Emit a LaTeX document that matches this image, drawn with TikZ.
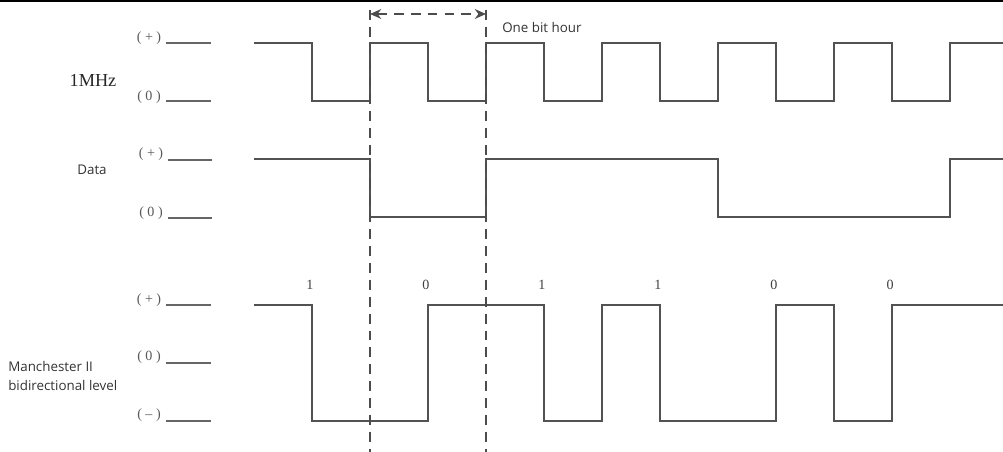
\documentclass[tikz,border=0pt]{standalone}
\usepackage{fontspec}
\setmainfont{Liberation Serif}
\newfontfamily\uifont{Open Sans}
\usetikzlibrary{arrows.meta}
\newcommand{\lvl}[1]{(\hspace{2.5pt}#1\hspace{2.5pt})}

\begin{document}
\begin{tikzpicture}[x=0.025cm, y=-0.025cm, >=Stealth,
  sig/.style={line width=1.3pt, draw=black!68, line join=miter},
  tick/.style={line width=1.3pt, draw=black!60},
  lev/.style={font=\fontsize{10}{11}\selectfont, text=black!65, inner sep=0pt},
  bitlab/.style={font=\fontsize{10}{11}\selectfont, text=black!75, inner sep=0pt},
  rowname/.style={font=\uifont\fontsize{9.5}{14}\selectfont, text=black!80, inner sep=0pt},
  guide/.style={line width=1.1pt, draw=black!70, dash pattern=on 7pt off 5pt}]
\useasboundingbox (0,0) rectangle (1003,452);

% Frame line
\draw[line width=1.5pt] (0,1) -- (1003,1);

% Row names
\node[font=\fontsize{13}{15}\selectfont, text=black!85, inner sep=0pt] (ckName) at (93,80) {1MHz};
\node[rowname] (dtName) at (92,170) {Data};
\node[rowname, align=left, anchor=west] (mcName) at (8,376) {Manchester II\\bidirectional level};

% Levels
\node[lev] (ckHi) at (149,38) {\lvl{+}};
\node[lev] (ckLo) at (149,97) {\lvl{0}};
\node[lev] (dtHi) at (151,154) {\lvl{+}};
\node[lev] (dtLo) at (151,213) {\lvl{0}};
\node[lev] (mcHi) at (149,300) {\lvl{+}};
\node[lev] (mcZe) at (149,357) {\lvl{0}};
\node[lev] (mcLo) at (149,415) {\lvl{\textendash}};
\foreach \y in {43,101,305,363,421}
  \draw[tick] (166,\y) -- (211,\y);
\foreach \y in {160,218}
  \draw[tick] (168,\y) -- (212,\y);

% Clock 1MHz
\draw[sig] (254,43) \foreach \k in {0,...,5} {
  -- ({312+116*\k},43) -- ({312+116*\k},101) -- ({370+116*\k},101) -- ({370+116*\k},43)}
  -- (1003,43);

% Data
\draw[sig] (254,159) -- (370,159) -- (370,217) -- (486,217) -- (486,159) -- (718,159)
  -- (718,217) -- (950,217) -- (950,159) -- (1003,159);

% Manchester II
\draw[sig] (254,305) -- (312,305) -- (312,421) -- (428,421) -- (428,305) -- (544,305)
  -- (544,421) -- (602,421) -- (602,305) -- (660,305) -- (660,421) -- (776,421)
  -- (776,305) -- (834,305) -- (834,421) -- (892,421) -- (892,305) -- (1003,305);
\foreach \x/\b in {310/1,426/0,542/1,658/1,774/0,890/0}
  \node[bitlab] (bit\x) at (\x,285) {\b};

% One bit time
\coordinate (bitL) at (370,14);
\coordinate (bitR) at (486,14);
\draw[guide] (370,10) -- (370,452);
\draw[guide] (486,10) -- (486,452);
\draw[guide, {Stealth[length=8pt, width=7pt]}-{Stealth[length=8pt, width=7pt]}] (bitL) -- (bitR);
\node[rowname, anchor=west] (bitTime) at (502,27) {One bit hour};
\end{tikzpicture}
\end{document}
